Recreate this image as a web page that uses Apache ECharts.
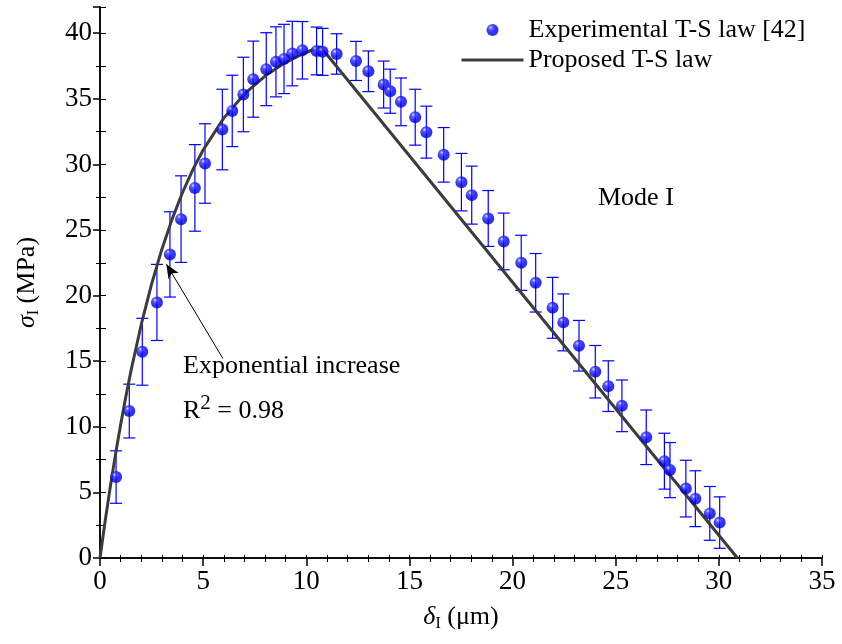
<!DOCTYPE html>
<html>
<head>
<meta charset="utf-8">
<script src="https://cdn.jsdelivr.net/npm/echarts@6/dist/echarts.min.js"></script>
<style>
  body { margin: 0; background: #fff; }
  #main { width: 842px; height: 644px; }
</style>
</head>
<body>
<div id="main"></div>
<script>
// experimental points (delta in um, sigma in MPa, error +-)
var expX = [0.78, 1.42, 2.05, 2.76, 3.39, 3.93, 4.60, 5.09, 5.93, 6.41, 6.95, 7.43, 8.06, 8.53, 8.92, 9.32,
    9.81, 10.50, 10.79, 11.47, 12.41, 13.01, 13.75, 14.07, 14.59, 15.28, 15.82, 16.66, 17.52, 18.02, 18.82,
    19.57, 20.42, 21.12, 21.94, 22.46, 23.22, 24.01, 24.64, 25.30, 26.48, 27.36, 27.63, 28.40, 28.86, 29.56, 30.04];
var expY = [6.17, 11.2, 15.72, 19.48, 23.14, 25.83, 28.21, 30.07, 32.66, 34.08, 35.33, 36.50, 37.26, 37.82, 38.04, 38.45,
    38.70, 38.65, 38.58, 38.42, 37.89, 37.10, 36.09, 35.58, 34.77, 33.60, 32.46, 30.73, 28.65, 27.66, 25.88,
    24.13, 22.50, 20.98, 19.07, 17.96, 16.18, 14.2, 13.1, 11.6, 9.2, 7.38, 6.7, 5.29, 4.52, 3.4, 2.7];
var expErr = [2.0, 2.05, 2.55, 2.9, 3.25, 3.3, 3.3, 3.03, 3.07, 2.72, 2.84, 2.9, 2.78, 2.67, 2.64, 2.46,
    2.19, 1.82, 1.79, 1.54, 1.49, 1.55, 1.79, 1.68, 1.82, 2.13, 1.98, 2.08, 2.19, 2.21, 2.13,
    2.16, 2.1, 2.23, 2.32, 2.17, 1.93, 2.0, 1.93, 1.97, 2.08, 2.13, 2.1, 2.16, 2.13, 2.05, 1.96];

// proposed T-S law
var lawX = [0, 0.25, 0.5, 0.75, 1, 1.25, 1.5, 2, 2.5, 3, 3.5, 4, 4.5, 5, 6, 7, 8, 9, 10, 10.7, 30.9];
var lawY = [0, 2.82, 5.44, 7.89, 10.16, 12.28, 14.26, 17.80, 20.88, 23.54, 25.85, 27.86, 29.60, 31.10, 33.53,
    35.37, 36.74, 37.78, 38.55, 38.95, 0];

var xTicks = [0, 35, 5];
var yTicks = [0, 42, 5];
var arrowFrom = [5.96, 15.2];
var arrowTo = [3.22, 22.4];

var serif = "'Liberation Serif', 'Times New Roman', serif";

var expData = [];
var errData = [];
for (var i = 0; i < expX.length; i++) {
    expData.push([expX[i], expY[i]]);
    errData.push([expX[i], expY[i] - expErr[i], expY[i] + expErr[i]]);
}
var lawData = [];
for (var j = 0; j < lawX.length; j++) {
    lawData.push([lawX[j], lawY[j]]);
}

var qq = document.getElementById('main');
var myChart = echarts.init(qq);

var sphere = {
    type: 'radial', x: 0.35, y: 0.3, r: 0.75,
    colorStops: [
        {offset: 0, color: '#dcdcff'},
        {offset: 0.2, color: '#3a3aff'},
        {offset: 0.55, color: '#0000ff'},
        {offset: 1, color: '#0000b0'}
    ]
};

option = {
    animation: false,
    backgroundColor: '#fff',
    textStyle: {fontFamily: serif, color: '#000'},
    grid: {left: 100, right: 20, top: 7, bottom: 86},
    legend: {
        orient: 'vertical',
        left: 460,
        top: 17,
        padding: 0,
        itemWidth: 62,
        itemHeight: 12,
        itemGap: 4,
        textStyle: {fontFamily: serif, fontSize: 26, color: '#000'},
        data: [
            {name: 'Experimental T-S law [42]'},
            // no dot on the line icon
            {name: 'Proposed T-S law', itemStyle: {opacity: 0}, lineStyle: {width: 3, color: '#3c3c3c'}}
        ]
    },
    xAxis: [{
        type: 'value',
        min: xTicks[0], max: xTicks[1], interval: xTicks[2],
        name: '{i|δ}{sub|I}{t| (μm)}',
        nameLocation: 'middle',
        nameGap: 44,
        nameTextStyle: {
            rich: {
                i: {fontFamily: serif, fontSize: 26, fontStyle: 'italic', color: '#000'},
                sub: {fontFamily: serif, fontSize: 16, color: '#000', padding: [14, 0, 0, 0]},
                t: {fontFamily: serif, fontSize: 26, color: '#000'}
            }
        },
        axisLine: {lineStyle: {color: '#000', width: 1.5}},
        axisTick: {length: 8, lineStyle: {color: '#000', width: 1.5}},
        minorTick: {show: true, splitNumber: 5, length: 4, lineStyle: {color: '#000'}},
        axisLabel: {fontFamily: serif, fontSize: 27, color: '#000', margin: 10},
        splitLine: {show: false}
    }, {
        type: 'value',
        position: 'top',
        min: xTicks[0], max: xTicks[1], interval: 1,
        axisLine: {lineStyle: {color: '#000', width: 1.5}},
        axisTick: {length: 3, lineStyle: {color: '#000'}},
        axisLabel: {show: false},
        splitLine: {show: false}
    }],
    yAxis: [{
        type: 'value',
        min: yTicks[0], max: yTicks[1], interval: yTicks[2],
        name: '{i|σ}{sub|I}{t| (MPa)}',
        nameLocation: 'middle',
        nameGap: 58,
        nameTextStyle: {
            rich: {
                i: {fontFamily: serif, fontSize: 26, fontStyle: 'italic', color: '#000'},
                sub: {fontFamily: serif, fontSize: 16, color: '#000', padding: [14, 0, 0, 0]},
                t: {fontFamily: serif, fontSize: 26, color: '#000'}
            }
        },
        axisLine: {lineStyle: {color: '#000', width: 1.5}},
        axisTick: {length: 7, lineStyle: {color: '#000', width: 1.5}},
        minorTick: {show: true, splitNumber: 2, length: 4, lineStyle: {color: '#000'}},
        axisLabel: {fontFamily: serif, fontSize: 27, color: '#000', margin: 8, showMaxLabel: false},
        splitLine: {show: false}
    }, {
        type: 'value',
        position: 'right',
        min: yTicks[0], max: yTicks[1], interval: 2.5,
        axisLine: {lineStyle: {color: '#000', width: 1.5}},
        axisTick: {length: 6, lineStyle: {color: '#000'}},
        axisLabel: {show: false},
        splitLine: {show: false}
    }],
    graphic: [
        {type: 'text', left: 598, top: 185, style: {text: 'Mode I', font: '26px ' + serif, fill: '#000'}},
        {type: 'text', left: 183, top: 353, style: {text: 'Exponential increase', font: '26px ' + serif, fill: '#000'}},
        {type: 'text', left: 183, top: 393, style: {
            text: '{r|R}{s|2}{r| = 0.98}',
            rich: {
                r: {fontFamily: serif, fontSize: 26, fill: '#000', padding: [8, 0, 0, 0]},
                s: {fontFamily: serif, fontSize: 21, fill: '#000', padding: [0, 0, 8, 0]}
            }
        }}
    ],
    series: [
        {
            name: 'err',
            type: 'custom',
            z: 2,
            silent: true,
            data: errData,
            renderItem: function (params, api) {
                var x = api.value(0);
                var lo = api.coord([x, api.value(1)]);
                var hi = api.coord([x, api.value(2)]);
                var w = 6;
                var st = {stroke: '#0000ff', lineWidth: 1.2};
                return {
                    type: 'group',
                    children: [
                        {type: 'line', shape: {x1: lo[0], y1: lo[1], x2: hi[0], y2: hi[1]}, style: st},
                        {type: 'line', shape: {x1: lo[0] - w, y1: lo[1], x2: lo[0] + w, y2: lo[1]}, style: st},
                        {type: 'line', shape: {x1: hi[0] - w, y1: hi[1], x2: hi[0] + w, y2: hi[1]}, style: st}
                    ]
                };
            }
        },
        {
            name: 'Experimental T-S law [42]',
            type: 'scatter',
            z: 4,
            symbol: 'circle',
            symbolSize: 12,
            itemStyle: {color: sphere},
            data: expData,
            markLine: {
                silent: true,
                symbol: ['none', 'arrow'],
                symbolSize: [9, 14],
                label: {show: false},
                lineStyle: {color: '#000', width: 1, type: 'solid'},
                data: [[{coord: arrowFrom}, {coord: arrowTo}]]
            }
        },
        {
            name: 'Proposed T-S law',
            type: 'line',
            z: 3,
            symbol: 'none',
            lineStyle: {color: '#3c3c3c', width: 3},
            itemStyle: {color: '#3c3c3c'},
            data: lawData
        }
    ]
};

myChart.setOption(option);
</script>
</body>
</html>
